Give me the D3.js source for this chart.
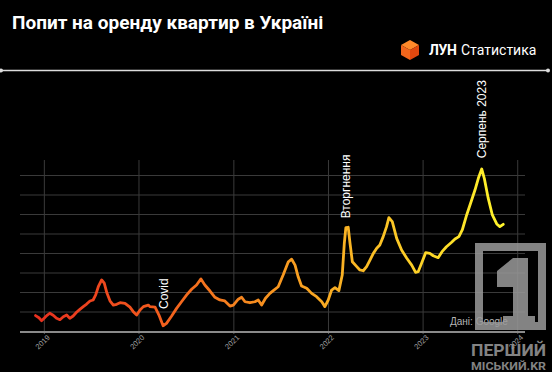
<!DOCTYPE html>
<html>
<head>
<meta charset="utf-8">
<script src="https://cdn.jsdelivr.net/npm/d3@7"></script>
<style>
  html, body { margin: 0; padding: 0; background: #000; }
  svg { display: block; }
</style>
</head>
<body>
<script>
// chart data
const dates = [
  "2018-11-30","2018-12-13","2018-12-23","2019-01-02","2019-01-12","2019-01-24","2019-02-06","2019-02-19",
  "2019-03-04","2019-03-17","2019-03-30","2019-04-11","2019-04-24","2019-05-07","2019-05-20","2019-06-02",
  "2019-06-15","2019-06-28","2019-07-10","2019-07-20","2019-07-30","2019-08-12","2019-08-22","2019-09-01",
  "2019-09-13","2019-09-26","2019-10-09","2019-10-22","2019-11-10","2019-11-29","2019-12-12","2019-12-25",
  "2020-01-07","2020-01-20","2020-02-08","2020-02-14","2020-03-05","2020-03-20","2020-04-05","2020-04-18",
  "2020-05-08","2020-05-27","2020-06-15","2020-07-05","2020-07-24","2020-08-12","2020-08-29","2020-09-13",
  "2020-10-03","2020-10-22","2020-11-10","2020-11-29","2020-12-19","2021-01-01","2021-01-20","2021-02-02",
  "2021-02-15","2021-03-06","2021-03-25","2021-04-07","2021-04-20","2021-05-05","2021-05-22","2021-06-04",
  "2021-06-23","2021-07-12","2021-08-01","2021-08-14","2021-08-27","2021-09-08","2021-09-21","2021-10-11",
  "2021-10-30","2021-11-18","2021-12-08","2021-12-20","2022-01-02","2022-01-15","2022-01-28","2022-02-12",
  "2022-02-25","2022-03-05","2022-03-11","2022-03-20","2022-03-27","2022-04-05","2022-04-22","2022-05-04",
  "2022-05-17","2022-05-30","2022-06-12","2022-06-25","2022-07-08","2022-07-20","2022-08-02","2022-08-15",
  "2022-08-24","2022-09-06","2022-09-23","2022-10-12","2022-11-01","2022-11-20","2022-12-05","2022-12-15",
  "2022-12-28","2023-01-13","2023-01-29","2023-02-11","2023-03-02","2023-03-17","2023-04-03","2023-04-23",
  "2023-05-06","2023-05-21","2023-06-03","2023-06-20","2023-07-07","2023-07-22","2023-08-04","2023-08-17",
  "2023-08-27","2023-09-11","2023-09-27","2023-10-14","2023-10-26","2023-11-08"
];
const values = [
  7.9, 6.8, 5.3, 6.5, 7.9, 9.1, 8.1, 6.5,
  5.8, 7.3, 8.2, 6.5, 7.7, 9.6, 11.1, 12.5,
  13.8, 15.4, 15.9, 18.5, 22.7, 26.2, 24.5, 19.6,
  15.5, 13.3, 13.7, 14.5, 14.2, 12.2, 9.9, 8.2,
  10.8, 12.5, 13.3, 12.5, 12.2, 8.2, 2.7, 3.9,
  7.7, 11.6, 15.0, 18.5, 21.4, 23.6, 26.7, 23.6,
  20.5, 17.3, 15.9, 15.4, 12.8, 13.3, 16.3, 17.3,
  15.0, 14.5, 15.0, 15.9, 13.3, 16.8, 19.3, 20.7,
  22.7, 28.7, 35.5, 36.8, 33.8, 27.8, 23.1, 21.9,
  19.3, 17.6, 15.0, 12.5, 15.9, 21.0, 22.2, 20.7,
  28.7, 45.0, 53.0, 53.2, 45.0, 35.5, 33.0, 31.3,
  30.9, 33.0, 36.4, 39.8, 42.4, 44.1, 48.4, 53.5,
  58.1, 56.1, 47.5, 41.5, 37.3, 33.8, 30.1, 30.4,
  34.7, 40.2, 39.8, 38.6, 37.6, 40.7, 43.2, 45.5,
  47.2, 48.4, 51.8, 59.5, 66.3, 72.3, 78.3, 83.1,
  78.3, 68.1, 59.5, 54.9, 53.5, 54.7
];
const gridValues = [10, 20, 30, 40, 50, 60, 70, 80];
const annoLabels = ["Covid", "Вторгнення", "Серпень 2023"];
const annoDates = ["2020-04-06", "2022-03-11", "2023-08-18"];
const annoValues = [11.3, 57.8, 88.6];

const title = "Попит на оренду квартир в Україні";
const source = "Дані: Google";

const width = 552, height = 372;
const parse = d3.timeParse("%Y-%m-%d");
const data = dates.map((d, i) => ({ date: parse(d), value: values[i] }));

const svg = d3.select("body")
  .append("svg")
  .attr("width", width)
  .attr("height", height)
  .style("background", "#000");

// header
svg.append("text")
  .attr("x", 12)
  .attr("y", 29)
  .attr("fill", "#fff")
  .style("font-family", "Roboto, sans-serif")
  .style("font-weight", "bold")
  .style("font-size", "19px")
  .text(title);

// LUN logo: small orange cube
const logo = svg.append("g").attr("transform", "translate(410,50)");
logo.append("path").attr("d", "M0,-10 L9,-5 L0,0 L-9,-5 Z").attr("fill", "#ff8a2a");
logo.append("path").attr("d", "M-9,-5 L0,0 L0,10 L-9,5 Z").attr("fill", "#f2661c");
logo.append("path").attr("d", "M9,-5 L0,0 L0,10 L9,5 Z").attr("fill", "#e0480f");

svg.append("text")
  .attr("x", 429)
  .attr("y", 55)
  .attr("textLength", 28)
  .attr("fill", "#fff")
  .style("font-family", "Roboto, sans-serif")
  .style("font-weight", "bold")
  .style("font-size", "14px")
  .text("ЛУН");

svg.append("text")
  .attr("x", 461)
  .attr("y", 55)
  .attr("fill", "#fff")
  .style("font-family", "Roboto, sans-serif")
  .style("font-size", "14px")
  .text("Статистика");

// separator
svg.append("line")
  .attr("x1", 0).attr("x2", width - 4)
  .attr("y1", 70.5).attr("y2", 70.5)
  .attr("stroke", "#ddd")
  .attr("stroke-width", 1.5);
svg.append("circle").attr("cx", 1).attr("cy", 70.5).attr("r", 2).attr("fill", "#ddd");
svg.append("circle").attr("cx", width - 4).attr("cy", 70.5).attr("r", 2).attr("fill", "#ddd");

// scales
const x = d3.scaleTime()
  .domain([new Date(2018, 9, 1), new Date(2024, 0, 31)])
  .range([20, 525]);

const y = d3.scaleLinear()
  .domain([0, 90])
  .range([331, 155.5]);

// horizontal grid
svg.append("g")
  .attr("transform", "translate(20,0)")
  .call(d3.axisLeft(y).tickValues(gridValues).tickSize(-505).tickFormat(""))
  .call(g => g.select(".domain").remove())
  .call(g => g.selectAll("line").attr("stroke", "#3a3a3a").attr("stroke-width", 1));

// vertical grid + year labels
const xAxis = svg.append("g")
  .attr("transform", "translate(0,331)")
  .call(d3.axisBottom(x).ticks(d3.timeYear.every(1)).tickSize(3).tickFormat(d3.timeFormat("%Y")));
xAxis.select(".domain").remove();
xAxis.selectAll("line").attr("stroke", "#555");
xAxis.selectAll(".tick").append("line")
  .attr("y1", 0).attr("y2", 160 - 331)
  .attr("stroke", "#3a3a3a");
xAxis.selectAll("text")
  .attr("fill", "#a0a0a0")
  .style("font-family", "Liberation Sans, Arial, sans-serif")
  .style("font-size", "7.5px")
  .attr("text-anchor", "end")
  .attr("dy", null)
  .attr("y", 0)
  .attr("transform", "translate(6,7) rotate(-45)");

// baseline
svg.append("line")
  .attr("x1", 20).attr("x2", 525)
  .attr("y1", 332).attr("y2", 332)
  .attr("stroke", "#8a8a8a")
  .attr("stroke-width", 2);

// colour gradient along the line
const grad = svg.append("defs").append("linearGradient")
  .attr("id", "lineGrad")
  .attr("gradientUnits", "userSpaceOnUse")
  .attr("x1", x(data[0].date)).attr("x2", x(data[data.length - 1].date))
  .attr("y1", 0).attr("y2", 0);
[["0", "#e8301f"], ["0.25", "#f25a1d"], ["0.5", "#f7931f"], ["0.72", "#fbbe25"], ["1", "#fff52b"]]
  .forEach(s => grad.append("stop").attr("offset", s[0]).attr("stop-color", s[1]));

const line = d3.line()
  .x(d => x(d.date))
  .y(d => y(d.value));

svg.append("path")
  .datum(data)
  .attr("fill", "none")
  .attr("stroke", "url(#lineGrad)")
  .attr("stroke-width", 2.8)
  .attr("stroke-linejoin", "round")
  .attr("stroke-linecap", "round")
  .attr("d", line);

// annotations
annoLabels.forEach((t, i) => {
  svg.append("text")
    .attr("transform", `translate(${x(parse(annoDates[i]))},${y(annoValues[i])}) rotate(-90)`)
    .attr("dy", "0.35em")
    .attr("fill", "#fff")
    .style("font-family", "Liberation Sans, Arial, sans-serif")
    .style("font-size", "12px")
    .text(t);
});

// source
svg.append("text")
  .attr("x", 450)
  .attr("y", 325)
  .attr("fill", "#b5b5b5")
  .style("font-family", "Liberation Sans, Arial, sans-serif")
  .style("font-size", "10px")
  .text(source);

// site watermark
const wm = svg.append("g").attr("opacity", 0.85);
wm.append("rect")
  .attr("x", 479).attr("y", 247)
  .attr("width", 63).attr("height", 79)
  .attr("fill", "none")
  .attr("stroke", "#9a9a9a")
  .attr("stroke-width", 8);
wm.append("path")
  .attr("d", "M513,258 L528,258 L528,316 L535,316 L535,324 L503,324 L503,316 L513,316 L513,287 L497,287 L497,271 Z")
  .attr("fill", "#9a9a9a");
wm.append("text")
  .attr("x", 471).attr("y", 356)
  .attr("textLength", 75).attr("lengthAdjust", "spacingAndGlyphs")
  .attr("fill", "#9a9a9a")
  .style("font-family", "Roboto, sans-serif")
  .style("font-weight", "bold")
  .style("font-size", "17px")
  .text("ПЕРШИЙ");
wm.append("text")
  .attr("x", 471).attr("y", 370)
  .attr("textLength", 75).attr("lengthAdjust", "spacingAndGlyphs")
  .attr("fill", "#9a9a9a")
  .style("font-family", "Roboto, sans-serif")
  .style("font-weight", "bold")
  .style("font-size", "10.5px")
  .text("МІСЬКИЙ.KR");
</script>
</body>
</html>
